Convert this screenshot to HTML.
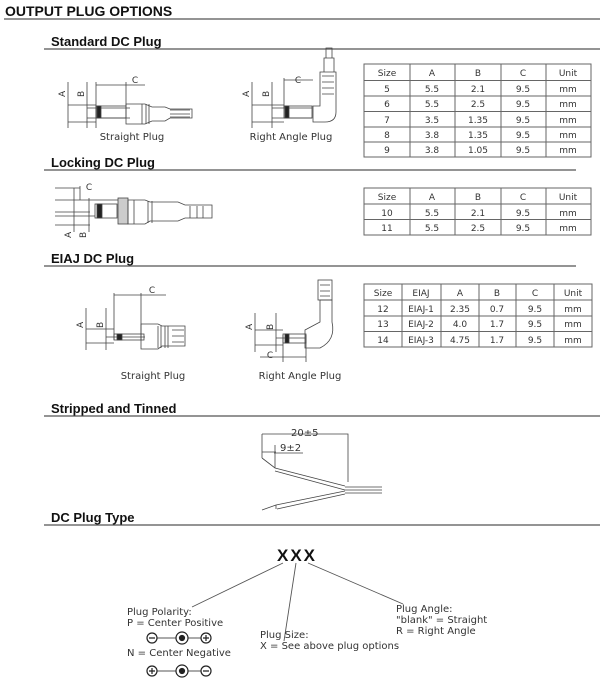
<!DOCTYPE html><html><head><style>body{margin:0;background:#fff}svg{display:block}
.h{font-family:"Liberation Sans",sans-serif;font-weight:bold;fill:#111}
.t{font-family:"DejaVu Sans",sans-serif;font-size:9px;fill:#333}
.l{font-family:"DejaVu Sans",sans-serif;font-size:10px;fill:#333}
</style></head><body>
<svg width="600" height="684" viewBox="0 0 600 684" xmlns="http://www.w3.org/2000/svg">
<g stroke="#555" stroke-width="1.2">
<line x1="4" y1="19" x2="600" y2="19"/>
<line x1="44" y1="49" x2="600" y2="49"/>
<line x1="44" y1="170" x2="576" y2="170"/>
<line x1="44" y1="266" x2="576" y2="266"/>
<line x1="44" y1="416" x2="600" y2="416"/>
<line x1="44" y1="525" x2="600" y2="525"/>
</g>
<text class="h" x="5" y="16" font-size="14">OUTPUT PLUG OPTIONS</text>
<text class="h" x="51" y="46" font-size="13">Standard DC Plug</text>
<text class="h" x="51" y="167" font-size="13">Locking DC Plug</text>
<text class="h" x="51" y="263" font-size="13">EIAJ DC Plug</text>
<text class="h" x="51" y="413" font-size="13">Stripped and Tinned</text>
<text class="h" x="51" y="522" font-size="13">DC Plug Type</text>

<g stroke="#666" stroke-width="1" fill="none">
<rect x="364" y="64" width="227" height="93"/>
<path d="M364 80.5H591M364 96H591M364 111.5H591M364 127H591M364 142H591M410 64V157M455 64V157M501 64V157M546 64V157"/>
<rect x="364" y="188" width="227" height="47"/>
<path d="M364 204H591M364 219.5H591M410 188V235M455 188V235M501 188V235M546 188V235"/>
<rect x="364" y="284" width="228" height="63"/>
<path d="M364 300H592M364 316H592M364 331.5H592M402 284V347M441 284V347M479 284V347M516 284V347M554 284V347"/>
</g>
<g class="t" text-anchor="middle">
<text x="387" y="76">Size</text><text x="432" y="76">A</text><text x="478" y="76">B</text><text x="523" y="76">C</text><text x="568" y="76">Unit</text>
<text x="387" y="92">5</text><text x="432" y="92">5.5</text><text x="478" y="92">2.1</text><text x="523" y="92">9.5</text><text x="568" y="92">mm</text>
<text x="387" y="107">6</text><text x="432" y="107">5.5</text><text x="478" y="107">2.5</text><text x="523" y="107">9.5</text><text x="568" y="107">mm</text>
<text x="387" y="123">7</text><text x="432" y="123">3.5</text><text x="478" y="123">1.35</text><text x="523" y="123">9.5</text><text x="568" y="123">mm</text>
<text x="387" y="138">8</text><text x="432" y="138">3.8</text><text x="478" y="138">1.35</text><text x="523" y="138">9.5</text><text x="568" y="138">mm</text>
<text x="387" y="153">9</text><text x="432" y="153">3.8</text><text x="478" y="153">1.05</text><text x="523" y="153">9.5</text><text x="568" y="153">mm</text>
<text x="387" y="200">Size</text><text x="432" y="200">A</text><text x="478" y="200">B</text><text x="523" y="200">C</text><text x="568" y="200">Unit</text>
<text x="387" y="216">10</text><text x="432" y="216">5.5</text><text x="478" y="216">2.1</text><text x="523" y="216">9.5</text><text x="568" y="216">mm</text>
<text x="387" y="231">11</text><text x="432" y="231">5.5</text><text x="478" y="231">2.5</text><text x="523" y="231">9.5</text><text x="568" y="231">mm</text>
<text x="383" y="296">Size</text><text x="421" y="296">EIAJ</text><text x="460" y="296">A</text><text x="497" y="296">B</text><text x="535" y="296">C</text><text x="573" y="296">Unit</text>
<text x="383" y="312">12</text><text x="421" y="312">EIAJ-1</text><text x="460" y="312">2.35</text><text x="497" y="312">0.7</text><text x="535" y="312">9.5</text><text x="573" y="312">mm</text>
<text x="383" y="327">13</text><text x="421" y="327">EIAJ-2</text><text x="460" y="327">4.0</text><text x="497" y="327">1.7</text><text x="535" y="327">9.5</text><text x="573" y="327">mm</text>
<text x="383" y="343">14</text><text x="421" y="343">EIAJ-3</text><text x="460" y="343">4.75</text><text x="497" y="343">1.7</text><text x="535" y="343">9.5</text><text x="573" y="343">mm</text>
</g>

<g stroke="#444" stroke-width="0.8" fill="none">
<path d="M68 82V128M87 82V128M96 82V128M126 82V106M96 85H126M126 85H145"/>
<path d="M68 105H96M68 122H96M87 108H130M87 118H130"/>
<rect x="96" y="106" width="30" height="12"/>
<rect x="97" y="106" width="4" height="12" fill="#222"/>
<path d="M126 104H145L152 107H165L170 109H192V118H170L165 121H152L145 124H126Z"/>
<path d="M142 104V124M146 104V124M149 104V124"/>
<path d="M170 110H190M170 114H190M170 117H190"/>
<path d="M252 82V128M272 82V128M284 78V108M284 80H313"/>
<path d="M252 105H284M252 122H284M272 108H312M272 118H312"/>
<rect x="284" y="106" width="28" height="12"/><rect x="285" y="106" width="4" height="12" fill="#222"/>
<path d="M313 106H320V72H336V112Q336 122 325 122H313Z"/>
<path d="M324 72V58H334V72M326 58V48H332V58M322 76H334M322 82H334M322 88H334M322 94H334"/>
<path d="M55 188H80M80 186V200M74 188V232M89 198V232M55 200H120M55 212H90M55 216H95M55 225H90"/>
<rect x="95" y="204" width="22" height="14"/><rect x="97" y="204" width="5" height="14" fill="#222"/>
<rect x="118" y="198" width="10" height="26" fill="#ccc"/>
<path d="M128 200H145L150 202H178L185 205H212V218H185L178 221H150L145 224H128Z"/>
<path d="M134 200V224M148 201V223M152 201V223M190 206V218M197 206V218M203 206V218"/>
<path d="M86 308V350M106 308V350M114 293V340M141 293V340M114 295H166M86 329H114M86 343H114M106 337H145"/>
<rect x="114" y="334" width="30" height="6"/><rect x="117" y="334" width="5" height="6" fill="#222"/>
<path d="M141 324H158L162 326H185V346H162L158 349H141Z"/>
<path d="M158 326V348M161 326V348M165 326V348M168 326V348M172 330H184M172 336H184M172 342H184"/>
<path d="M255 313V352M276 313V352M283 335V362M306 335V362M260 357H306M255 330H283M255 345H283M276 338H305"/>
<rect x="283" y="334" width="23" height="9"/><rect x="285" y="334" width="4" height="9" fill="#222"/>
<path d="M305 330L320 322V300L332 300V322Q336 340 320 348H305Z"/>
<rect x="318" y="280" width="14" height="20"/><path d="M320 285H330M320 291H330M320 296H330"/>
</g>
<g class="t" text-anchor="middle" font-size="10">
<text x="135" y="83">C</text><text x="298" y="83">C</text><text x="89" y="190">C</text>
<text x="152" y="293">C</text><text x="270" y="358">C</text>
</g>
<g class="t" font-size="9">
<text transform="translate(65 97)rotate(-90)">A</text><text transform="translate(84 97)rotate(-90)">B</text>
<text transform="translate(249 97)rotate(-90)">A</text><text transform="translate(269 97)rotate(-90)">B</text>
<text transform="translate(71 238)rotate(-90)">A</text><text transform="translate(86 238)rotate(-90)">B</text>
<text transform="translate(83 328)rotate(-90)">A</text><text transform="translate(103 328)rotate(-90)">B</text>
<text transform="translate(252 330)rotate(-90)">A</text><text transform="translate(273 330)rotate(-90)">B</text>
</g>
<g class="l" text-anchor="middle">
<text x="132" y="140">Straight Plug</text><text x="291" y="140">Right Angle Plug</text>
<text x="153" y="379">Straight Plug</text><text x="300" y="379">Right Angle Plug</text>
</g>

<g stroke="#444" stroke-width="0.8" fill="none">
<path d="M262 434H348V482M262 434V458M262 452H276M275 445V468M274 453H303"/>
<path d="M262 458L275 468L345 486M275 471L345 490M345 487H382M345 490H382M345 493H382"/>
<path d="M262 510L276 505L345 491M277 509L345 494M276 505V509"/>
</g>
<text class="l" x="291" y="436">20±5</text><text class="l" x="280" y="451">9±2</text>

<text class="h" x="277" y="561" font-size="17" letter-spacing="2">XXX</text>
<g stroke="#555" stroke-width="0.9" fill="none">
<path d="M283 563L192 607M296 563L284 641M308 563L403 604"/>
<path d="M152 638H206M152 671H206"/>
</g>
<g class="l" font-size="9">
<text x="127" y="615">Plug Polarity:</text><text x="127" y="626">P = Center Positive</text>
<text x="127" y="656">N = Center Negative</text>
<text x="260" y="638">Plug Size:</text><text x="260" y="649">X = See above plug options</text>
<text x="396" y="612">Plug Angle:</text><text x="396" y="623">"blank" = Straight</text><text x="396" y="634">R = Right Angle</text>
</g>
<g stroke="#222" stroke-width="1.2" fill="#fff">
<circle cx="152" cy="638" r="5"/><circle cx="182" cy="638" r="6"/><circle cx="206" cy="638" r="5"/>
<circle cx="152" cy="671" r="5"/><circle cx="182" cy="671" r="6"/><circle cx="206" cy="671" r="5"/>
<path d="M149 638H155M203 638H209M206 635V641M149 671H155M152 668V674M203 671H209"/>
<circle cx="182" cy="638" r="2.5" fill="#222"/><circle cx="182" cy="671" r="2.5" fill="#222"/>
</g>
</svg></body></html>
